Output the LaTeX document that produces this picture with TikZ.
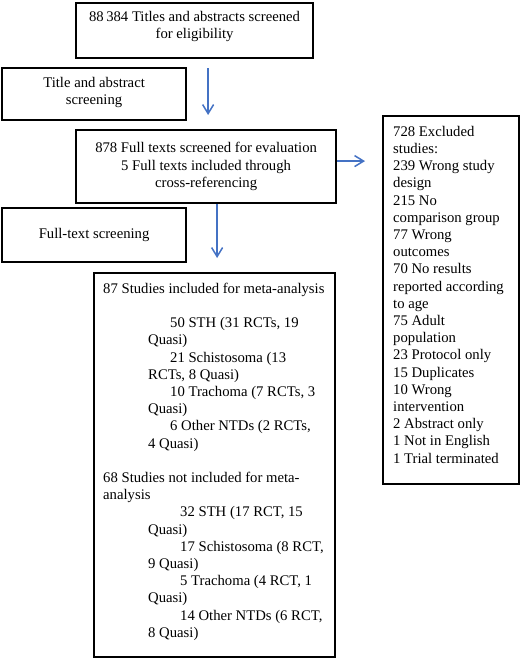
\documentclass[tikz,border=0pt]{standalone}
\usepackage{fontspec}
\setmainfont{Liberation Serif}
\usetikzlibrary{arrows.meta}
\definecolor{arrowblue}{RGB}{68,114,196}
\begin{document}
\begin{tikzpicture}[x=1pt,y=-1pt,
  box/.style={draw=black, line width=2.2pt, rectangle, inner sep=0pt, anchor=north west, align=center, font=\fontsize{14.7}{17.2}\selectfont},
  txt/.style={inner sep=0pt, anchor=north west, align=left, font=\fontsize{14.7}{17.2}\selectfont},
  arr/.style={draw=arrowblue, line width=1.5pt, -{Straight Barb[length=9pt,width=11pt]}}]
\useasboundingbox (0,0) rectangle (520,660);
\node[box, minimum width=237pt, minimum height=55pt, text depth=12pt] (b1) at (75,2) {88\,384 Titles and abstracts screened\\for eligibility};
\node[box, minimum width=184pt, minimum height=52pt, text depth=7pt] (b2) at (1,67) {Title and abstract\\screening};
\node[box, minimum width=260pt, minimum height=73pt] (b3) at (75,129) {878 Full texts screened for evaluation\\5 Full texts included through\\cross-referencing};
\node[box, minimum width=184pt, minimum height=54pt] (b4) at (1,207) {Full-text screening};
\node[box, minimum width=241pt, minimum height=384pt] (bot) at (93,272) {};
\node[box, minimum width=136pt, minimum height=368pt] (exc) at (382,115) {};
\node[txt] (bottxt) at (103,281) {\strut 87 Studies included for meta-analysis\\[17.2pt]
\hspace*{67pt}50 STH (31 RCTs, 19\\
\hspace*{45pt}Quasi)\\
\hspace*{67pt}21 Schistosoma (13\\
\hspace*{45pt}RCTs, 8 Quasi)\\
\hspace*{67pt}10 Trachoma (7 RCTs, 3\\
\hspace*{45pt}Quasi)\\
\hspace*{67pt}6 Other NTDs (2 RCTs,\\
\hspace*{45pt}4 Quasi)\\[17.2pt]
68 Studies not included for meta-\\
analysis\\
\hspace*{77pt}32 STH (17 RCT, 15\\
\hspace*{45pt}Quasi)\\
\hspace*{77pt}17 Schistosoma (8 RCT,\\
\hspace*{45pt}9 Quasi)\\
\hspace*{77pt}5 Trachoma (4 RCT, 1\\
\hspace*{45pt}Quasi)\\
\hspace*{77pt}14 Other NTDs (6 RCT,\\
\hspace*{45pt}8 Quasi)};
\node[txt] (exctxt) at (393,124) {\strut 728 Excluded\\
studies:\\
239 Wrong study\\
design\\
215 No\\
comparison group\\
77 Wrong\\
outcomes\\
70 No results\\
reported according\\
to age\\
75 Adult\\
population\\
23 Protocol only\\
15 Duplicates\\
10 Wrong\\
intervention\\
2 Abstract only\\
1 Not in English\\
1 Trial terminated};
\draw[arr, shorten <=9pt, shorten >=14pt] ([xshift=13.5pt]b1.south) -- ([xshift=2pt]b3.north);
\draw[arr, shorten >=14pt] ([xshift=11pt]b3.south) -- ([xshift=2.5pt]bot.north);
\draw[arr, shorten >=17pt] ([yshift=5.5pt]b3.east) -- ([yshift=5.5pt]b3.east -| exc.west);
\end{tikzpicture}
\end{document}
